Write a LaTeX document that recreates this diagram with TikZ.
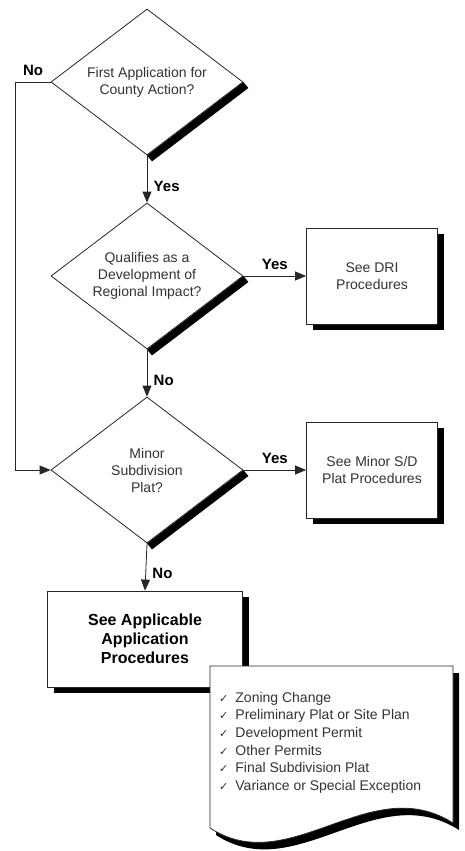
\documentclass[tikz,border=0pt]{standalone}
\usepackage{fontspec}
\setmainfont{Liberation Sans}
\newfontfamily\checkfont{DejaVu Sans}
\usepackage{xcolor}
\usepackage{tikz}
\usetikzlibrary{shapes.geometric,arrows.meta,shadows,calc,backgrounds}
\definecolor{ink}{HTML}{333333}
\definecolor{edge}{HTML}{262626}
\newcommand\tick{{\checkfont\fontsize{11}{11}\selectfont ✓}\hspace{7pt}}
\tikzset{
  dec/.style={diamond, aspect=1.35, draw=edge, fill=white, line width=0.8pt, inner sep=0pt,
    minimum width=192pt, minimum height=146pt, align=center, text=ink,
    font=\fontsize{14}{17}\selectfont},
  box/.style={rectangle, draw=edge, fill=white, line width=0.8pt, align=center, text=ink,
    minimum width=131pt, minimum height=96pt, font=\fontsize{14}{16.5}\selectfont,
    drop shadow={shadow xshift=6pt, shadow yshift=-6pt, fill=black, opacity=1}},
  boxb/.style={box, text=black, minimum width=195pt, font=\bfseries\fontsize{16}{19}\selectfont},
  flow/.style={draw=edge, line width=0.8pt, -{Triangle[length=11pt,width=9pt]}},
  lab/.style={text=black, font=\bfseries\fontsize{15}{15}\selectfont},
  shade/.style={fill=black},
  sheet/.style={draw=edge, fill=white, line width=0.8pt, line join=round},
  items/.style={text=ink, align=left, inner sep=0pt, font=\fontsize{14}{17.6}\selectfont},
}
\begin{document}
\begin{tikzpicture}[x=1pt,y=-1pt]
  \useasboundingbox (0,0) rectangle (464,851);
  % decisions
  \node[dec] (qFirst) at (147,82)  {First Application for\\County Action?};
  \node[dec] (qDri)   at (147,276) {Qualifies as a\\Development of\\Regional Impact?};
  \node[dec] (qMinor) at (147,470) {Minor\\Subdivision\\Plat?};
  \begin{scope}[on background layer]
    \foreach \d in {qFirst,qDri,qMinor}
      \fill[shade] (\d.east) -- ++(5,6) -- ($(\d.south)+(5,6)$) -- (\d.south) -- cycle;
  \end{scope}
  % outcomes
  \node[box]  (bDri)   at (372,276) {See DRI\\Procedures};
  \node[box]  (bMinor) at (372,470) {See Minor S/D\\Plat Procedures};
  \node[boxb] (bApply) at (145,639) {See Applicable\\Application\\Procedures};
  % connectors
  \draw[flow] (qFirst.south) -- (qDri.north) node[lab, pos=0.65, right, xshift=3pt] {Yes};
  \draw[flow] (qDri.east) -- (bDri.west) node[lab, midway, above, yshift=3pt] {Yes};
  \draw[flow] (qDri.south) -- (qMinor.north) node[lab, pos=0.65, right, xshift=3pt] {No};
  \draw[flow] (qMinor.east) -- (bMinor.west) node[lab, midway, above, yshift=3pt] {Yes};
  \draw[flow] (qMinor.south) -- (bApply.north) node[lab, pos=0.63, right, xshift=3pt] {No};
  \draw[flow] (qFirst.west) -- ++(-35,0) node[lab, midway, above, yshift=3pt] {No} |- (qMinor.west);
  % list of applications
  \begin{scope}[shift={(6,7)}]
    \fill[shade] (210,666) -- (453,666) -- (453,823) .. controls (370,770) and (290,880) .. (210,828) -- cycle;
  \end{scope}
  \draw[sheet] (210,666) -- (453,666) -- (453,823) .. controls (370,770) and (290,880) .. (210,828) -- cycle;
  \node[items, anchor=north west] (apps) at (219,692) {\tick Zoning Change\\
    \tick Preliminary Plat or Site Plan\\
    \tick Development Permit\\
    \tick Other Permits\\
    \tick Final Subdivision Plat\\
    \tick Variance or Special Exception};
\end{tikzpicture}
\end{document}
